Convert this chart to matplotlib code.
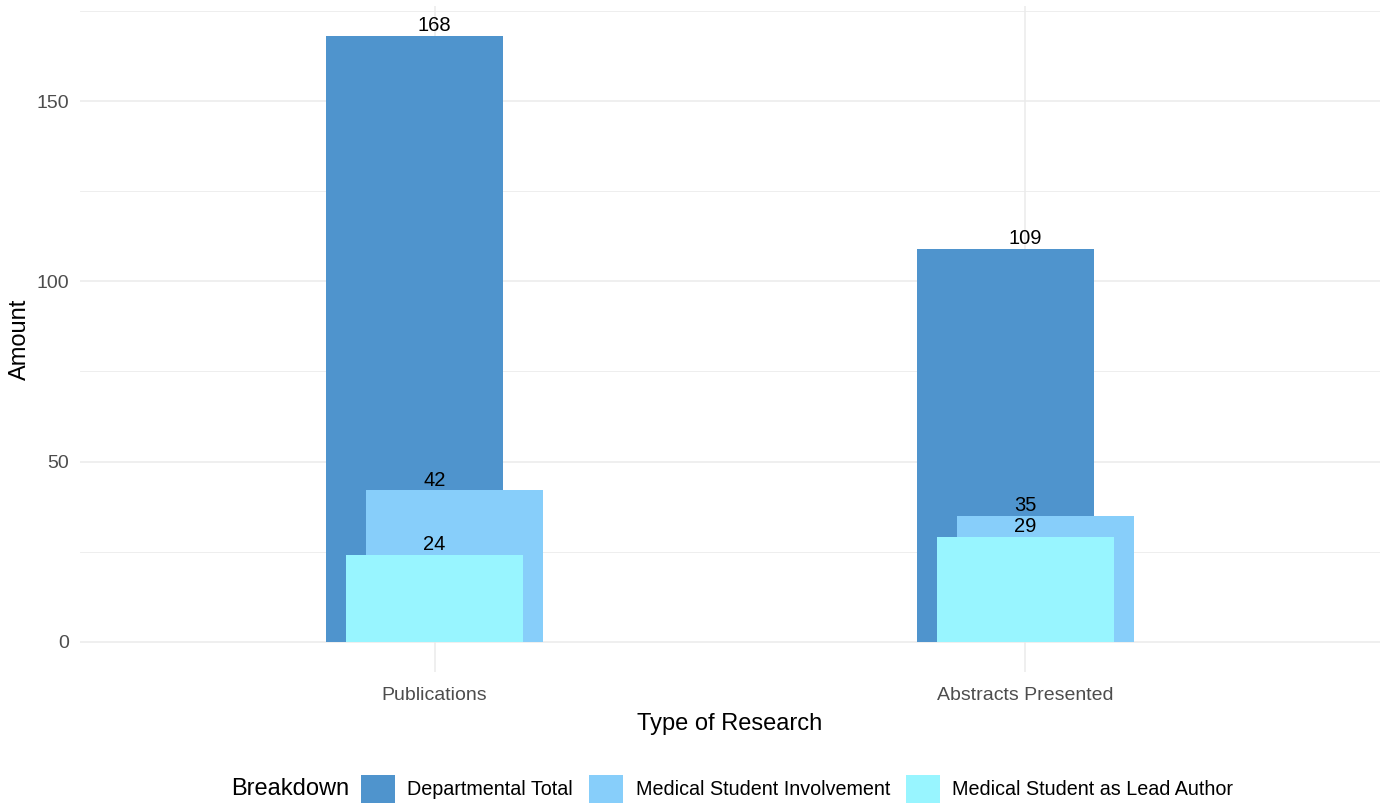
import matplotlib
matplotlib.use("Agg")
import matplotlib.pyplot as plt
from matplotlib.patches import Patch
import numpy as np

plt.rcParams['font.family'] = ['Liberation Sans', 'DejaVu Sans']

categories = ["Publications", "Abstracts Presented"]
series_names = ["Departmental Total", "Medical Student Involvement", "Medical Student as Lead Author"]
departmental_total = [168, 109]
student_involvement = [42, 35]
student_lead_author = [24, 29]
series_values = [departmental_total, student_involvement, student_lead_author]
colors = ["#4F94CD", "#87CEFA", "#98F5FF"]
offsets = [-1/30, 1/30, 0.0]  # dodge offsets for each series
bar_width = 0.3
yticks = [0, 50, 100, 150]

fig = plt.figure(figsize=(13.89, 8.07), dpi=100)
ax = fig.add_axes([80/1389, 1 - 672/807, 1300/1389, (672 - 6)/807])

x = np.arange(1, len(categories) + 1)
for vals, col, off in zip(series_values, colors, offsets):
    ax.bar(x + off, vals, width=bar_width, color=col, zorder=2, linewidth=0)
for vals in series_values:
    for xi, v in zip(x, vals):
        ax.annotate(str(v), (xi, v), xytext=(0, 0.6), textcoords='offset points',
                    ha='center', va='bottom', fontsize=14.5, color='black', zorder=3)

ax.set_xlim(0.4, 2.6)
ymax = max(departmental_total)
ax.set_ylim(-0.05 * ymax, 1.05 * ymax)
ax.set_xticks(x)
ax.set_xticklabels(categories)
ax.set_yticks(yticks)
ax.set_yticks([25, 75, 125, 175], minor=True)
ax.grid(True, which='major', color='#EBEBEB', linewidth=1.1, zorder=0)
ax.grid(True, which='minor', axis='y', color='#EBEBEB', linewidth=0.6, zorder=0)
ax.set_axisbelow(True)
for s in ax.spines.values():
    s.set_visible(False)
ax.tick_params(axis='both', which='both', length=0, labelsize=14, labelcolor='#4D4D4D')
ax.tick_params(axis='x', pad=11)
ax.tick_params(axis='y', pad=8)
ax.set_xlabel("Type of Research", fontsize=17, labelpad=6)
ax.set_ylabel("Amount", fontsize=17, labelpad=4)

handles = [Patch(facecolor=c, edgecolor='none') for c in colors]
leg = fig.legend(handles, series_names, loc='center', bbox_to_anchor=(797/1389, 1 - 789/807),
                 ncol=3, frameon=False, fontsize=14.2, handlelength=1.75, handleheight=1.75,
                 handletextpad=0.62, columnspacing=0.8, borderaxespad=0)
fig.text(231/1389, 1 - 789/807, "Breakdown", fontsize=17, ha='left', va='center')

fig.savefig("out.png", dpi=100, facecolor='white')
